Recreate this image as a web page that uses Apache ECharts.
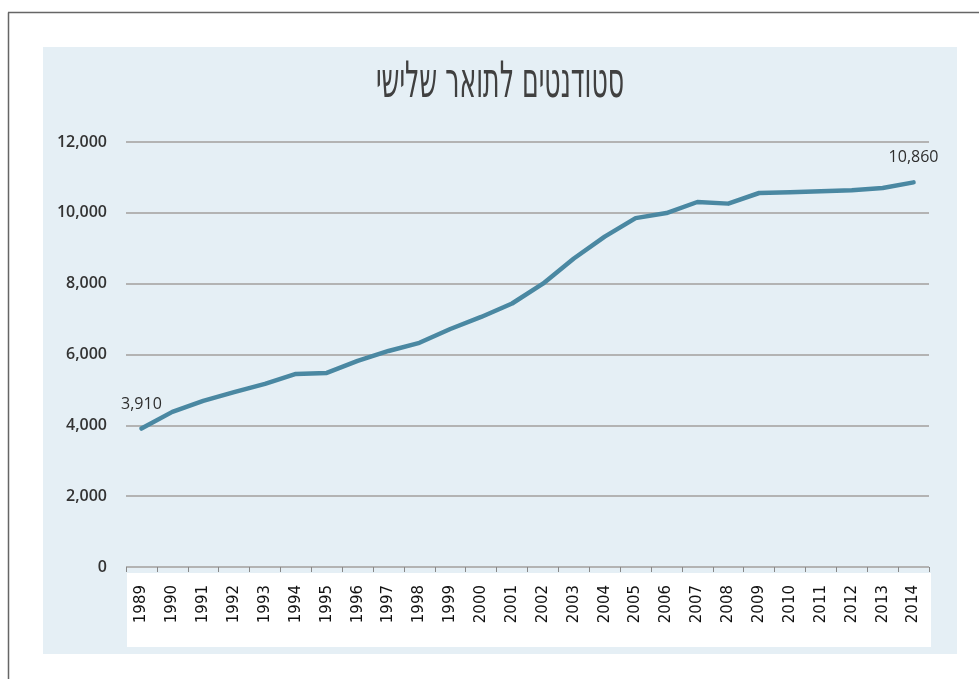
<!DOCTYPE html>
<html><head><meta charset="utf-8">
<script src="https://cdn.jsdelivr.net/npm/echarts@6/dist/echarts.min.js"></script>
<style>html,body{margin:0;padding:0;background:#fff}#c{width:979px;height:679px}</style>
</head><body><div id="c"></div>
<script>
const titleText = 'סטודנטים לתואר שלישי';
const years = ['1989','1990','1991','1992','1993','1994','1995','1996','1997','1998','1999','2000','2001','2002','2003','2004','2005','2006','2007','2008','2009','2010','2011','2012','2013','2014'];
const students = [3910,4380,4690,4940,5170,5450,5480,5820,6100,6330,6720,7060,7440,8000,8710,9330,9850,9995,10306,10260,10560,10580,10610,10640,10700,10860];
const yTicks = [0,2000,4000,6000,8000,10000,12000];

const chart = echarts.init(document.getElementById('c'), null, {renderer:'canvas'});
chart.setOption({
  backgroundColor:'#ffffff',
  animation:false,
  graphic:[
    {type:'line',shape:{x1:8.5,y1:679,x2:8.5,y2:12.5},style:{stroke:'#666',lineWidth:1.5},z:-10},
    {type:'line',shape:{x1:8,y1:12.5,x2:979,y2:12.5},style:{stroke:'#666',lineWidth:1.5},z:-10},
    {type:'rect',shape:{x:43,y:47,width:914,height:607},style:{fill:'#e5eff5'},z:-10},
    {type:'rect',shape:{x:127,y:573,width:804,height:74},style:{fill:'#ffffff'},z:-9},
    {type:'text',x:500,y:84,scaleX:0.56,scaleY:1,z:10,
      style:{text:titleText,x:0,y:0,align:'center',verticalAlign:'middle',
        font:'normal 50px "DejaVu Sans Condensed"',fill:'#404040'}}
  ],
  grid:{left:126,right:50,top:142,bottom:112,containLabel:false},
  xAxis:{type:'category',data:years,boundaryGap:true,offset:6,
    axisLine:{show:false},
    axisTick:{show:true,length:5,alignWithLabel:false,lineStyle:{color:'#888',width:1}},
    axisLabel:{rotate:90,margin:12,fontFamily:'DejaVu Sans',fontWeight:'normal',fontSize:15,color:'#111',interval:0}},
  yAxis:{type:'value',min:0,max:12000,interval:2000,
    axisLine:{show:false},axisTick:{show:false},
    splitLine:{show:true,lineStyle:{color:'#b3b3b3',width:2}},
    axisLabel:{margin:19,fontFamily:'Open Sans',fontSize:16,fontWeight:600,color:'#333',
      formatter:v=>v.toLocaleString('en-US')}},
  series:[{type:'line',data:students,symbol:'circle',symbolSize:1,showSymbol:true,showAllSymbol:true,
    itemStyle:{color:'#4a88a2'},
    lineStyle:{color:'#4a88a2',width:4.5,join:'round',cap:'round'},
    labelLayout:{hideOverlap:false},
    label:{show:true,position:'top',distance:16,fontFamily:'Open Sans',fontSize:16,color:'#2e2e2e',
      formatter:p=>(p.dataIndex===0||p.dataIndex===students.length-1)?p.value.toLocaleString('en-US'):''}
  }]
});
</script></body></html>
